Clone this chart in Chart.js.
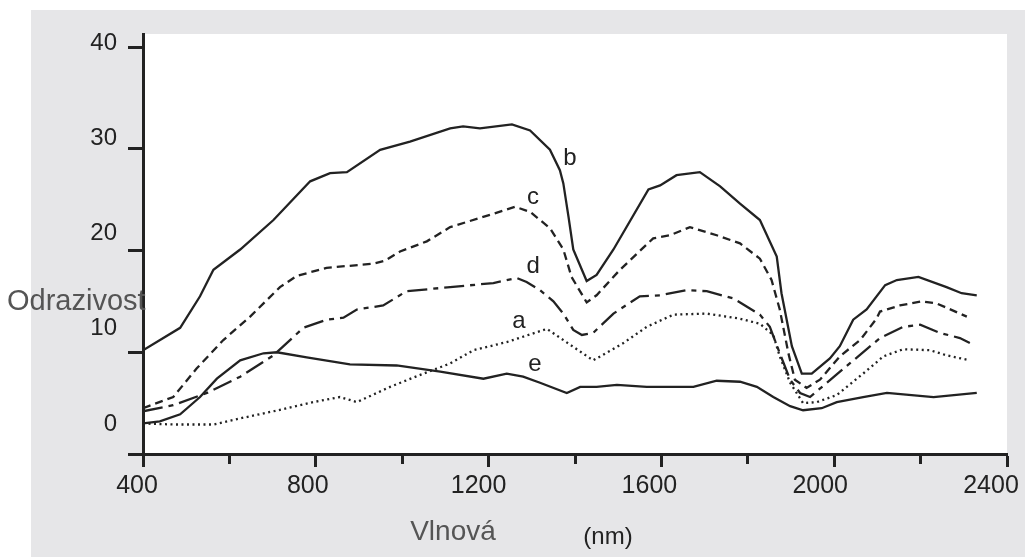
<!DOCTYPE html>
<html>
<head>
<meta charset="utf-8">
<script src="https://cdn.jsdelivr.net/npm/chart.js@4"></script>
<style>
  body { margin: 0; background: #fff; }
  #wrap { width: 1025px; height: 557px; }
</style>
</head>
<body>
<div id="wrap"><canvas id="graf" width="1025" height="557"></canvas></div>
<script>
// vlnova delka (nm) a odrazivost (%) jednotlivych krivek
const wlA = [400,470,563,625,702,794,856,895,972,1049,1111,1165,1242,1335,1442,1512,1566,1628,1705,1782,1828,1859,1874,1898,1928,1960,2006,2067,2114,2160,2222,2260,2314]
const rA  = [3.0,2.9,2.9,3.5,4.2,5.1,5.6,5.1,6.6,7.9,8.9,10.2,11.0,12.3,9.2,10.9,12.5,13.7,13.8,13.3,12.8,11.7,9.6,7.0,5.0,5.1,5.8,7.9,9.6,10.3,10.2,9.7,9.2]

const wlB = [400,486,532,563,625,702,787,833,872,949,1018,1111,1141,1180,1254,1296,1342,1365,1373,1385,1396,1427,1450,1489,1570,1597,1635,1689,1736,1782,1828,1867,1878,1902,1925,1948,1990,2013,2044,2075,2118,2145,2195,2260,2295,2330]
const rB  = [10.2,12.4,15.5,18.1,20.1,23.0,26.8,27.6,27.7,29.9,30.7,32.0,32.2,32.0,32.4,31.8,29.9,27.9,26.6,23.3,20.1,17.0,17.6,20.1,26.0,26.4,27.4,27.7,26.3,24.6,23.0,19.4,15.8,10.6,7.9,7.9,9.4,10.6,13.2,14.2,16.6,17.1,17.4,16.4,15.8,15.6]

const wlC = [400,470,524,586,648,717,756,825,933,960,995,1057,1111,1149,1203,1261,1296,1342,1373,1392,1427,1450,1504,1581,1620,1666,1728,1782,1828,1855,1874,1894,1909,1936,1967,2013,2060,2098,2106,2152,2203,2237,2307]
const rC  = [4.5,5.6,8.4,11.2,13.5,16.4,17.5,18.3,18.7,19.0,19.9,20.9,22.3,22.8,23.5,24.3,23.8,22.2,20.1,17.4,14.9,15.6,18.1,21.2,21.5,22.3,21.5,20.7,19.2,17.1,14.2,9.9,7.3,6.5,7.3,9.6,11.2,13.3,14.0,14.6,15.0,14.8,13.5]

const wlD = [400,470,548,625,702,771,825,864,895,956,1010,1111,1211,1265,1288,1319,1350,1373,1396,1416,1442,1489,1550,1597,1659,1705,1766,1828,1851,1874,1898,1921,1944,1983,2036,2106,2160,2199,2245,2291,2314]
const rD  = [4.2,4.8,6.0,7.6,9.7,12.4,13.2,13.4,14.2,14.6,16.0,16.4,16.8,17.3,16.9,16.1,15.0,13.8,12.2,11.7,11.9,13.8,15.5,15.6,16.1,16.0,15.3,13.7,12.5,9.9,7.3,6.0,5.6,7.0,8.9,11.4,12.5,12.7,11.9,11.4,10.9]

const wlE = [400,439,486,532,571,625,679,710,779,879,987,1088,1188,1242,1280,1319,1381,1412,1450,1497,1566,1674,1728,1782,1821,1859,1898,1928,1971,2006,2067,2122,2230,2330]
const rE  = [3.0,3.2,3.9,5.6,7.4,9.2,9.9,10.0,9.5,8.8,8.7,8.1,7.4,7.9,7.6,7.0,6.0,6.6,6.6,6.8,6.6,6.6,7.2,7.1,6.6,5.6,4.7,4.3,4.5,5.1,5.6,6.0,5.6,6.0]

const curveNames = ['a', 'b', 'c', 'd', 'e']
const xTicks = [400,600,800,1000,1200,1400,1600,1800,2000,2200,2400]
const xLabels = [400,800,1200,1600,2000,2400]
const yTicks = [0,10,20,30,40]
const yTitle = 'Odrazivost'
const xTitle = 'Vlnová'
const xUnit = '(nm)'

const ink = '#222'
const font = '"Liberation Sans", Arial, sans-serif'
const toPts = (xs, ys) => xs.map((x, i) => ({ x, y: ys[i] }))

const krivka = (label, xs, ys, dash) => ({
  label,
  data: toPts(xs, ys),
  borderColor: ink,
  borderWidth: 2.3,
  borderDash: dash,
  pointRadius: 0,
  tension: 0,
  fill: false
})

const fondo = {
  id: 'fondo',
  beforeDraw(chart) {
    const { ctx, chartArea: ca } = chart
    ctx.save()
    ctx.fillStyle = '#e6e6e8'
    ctx.fillRect(31, 10, chart.width - 31, chart.height - 10)
    ctx.fillStyle = '#fff'
    ctx.fillRect(ca.left, ca.top, ca.right - ca.left, ca.bottom - ca.top)
    ctx.restore()
  }
}

// pismena u krivek a popisky os
const textos = {
  id: 'textos',
  afterDraw(chart) {
    const { ctx, scales: { x, y } } = chart
    const nameAt = [[1270, 13.0], [1388, 29.1], [1303, 25.2], [1303, 18.4], [1307, 8.8]]
    ctx.save()
    ctx.textBaseline = 'middle'
    ctx.textAlign = 'center'
    ctx.fillStyle = ink
    ctx.font = '24px ' + font
    curveNames.forEach((n, i) => {
      ctx.fillText(n, x.getPixelForValue(nameAt[i][0]), y.getPixelForValue(nameAt[i][1]))
    })
    ctx.fillText(xUnit, 608, 537)
    ctx.fillStyle = '#555'
    ctx.font = '28px ' + font
    ctx.fillText(xTitle, 453, 532)
    ctx.font = '29px ' + font
    ctx.textAlign = 'left'
    ctx.fillText(yTitle, 7, 302)
    ctx.restore()
  }
}

const noPad = s => { s.paddingLeft = 0; s.paddingRight = 0; s.paddingTop = 0; s.paddingBottom = 0 }

new Chart(document.getElementById('graf'), {
  type: 'line',
  data: {
    datasets: [
      krivka('a', wlA, rA, [2, 3.5]),
      krivka('b', wlB, rB, []),
      krivka('c', wlC, rC, [8, 5]),
      krivka('d', wlD, rD, [20, 6, 5, 6]),
      krivka('e', wlE, rE, [])
    ]
  },
  options: {
    responsive: false,
    animation: false,
    layout: { padding: { top: 34, right: 18, left: 0, bottom: 0 } },
    plugins: { legend: { display: false }, tooltip: { enabled: false } },
    scales: {
      // osa s carkami
      x: {
        type: 'linear',
        position: 'bottom',
        weight: 0,
        min: 400,
        max: 2400,
        afterBuildTicks: s => { s.ticks = xTicks.map(v => ({ value: v })) },
        afterFit: s => { s.height = 0; noPad(s) },
        border: { color: ink, width: 3 },
        grid: {
          drawOnChartArea: false,
          tickLength: 13,
          tickWidth: 3,
          tickColor: ink,
          tickBorderDash: c => xLabels.includes(c.tick.value) ? [] : [8, 100]
        },
        ticks: { display: false }
      },
      // popisky osy x
      xl: {
        type: 'linear',
        position: 'bottom',
        weight: 1,
        min: 414,
        max: 2437.5,
        afterBuildTicks: s => { s.ticks = xLabels.map(v => ({ value: v })) },
        afterFit: s => { s.height = 103; noPad(s) },
        border: { display: false },
        grid: { display: false, drawTicks: false },
        ticks: {
          color: ink,
          font: { size: 25, family: font },
          padding: 17,
          maxRotation: 0,
          autoSkip: false,
          callback: v => String(v)
        }
      },
      y: {
        position: 'left',
        weight: 0,
        min: 0,
        max: 41.28,
        afterBuildTicks: s => { s.ticks = yTicks.map(v => ({ value: v })) },
        afterFit: s => { s.width = 15; noPad(s) },
        border: { color: ink, width: 3 },
        grid: { drawOnChartArea: false, tickLength: 15, tickWidth: 3, tickColor: ink },
        ticks: { display: false }
      },
      yl: {
        position: 'left',
        weight: 1,
        min: -3.15,
        max: 40.94,
        afterBuildTicks: s => { s.ticks = yTicks.map(v => ({ value: v })) },
        afterFit: s => { s.width = 128; noPad(s) },
        border: { display: false },
        grid: { display: false, drawTicks: false },
        ticks: { color: ink, font: { size: 24, family: font }, padding: 11 }
      }
    }
  },
  plugins: [fondo, textos]
})
</script>
</body>
</html>
